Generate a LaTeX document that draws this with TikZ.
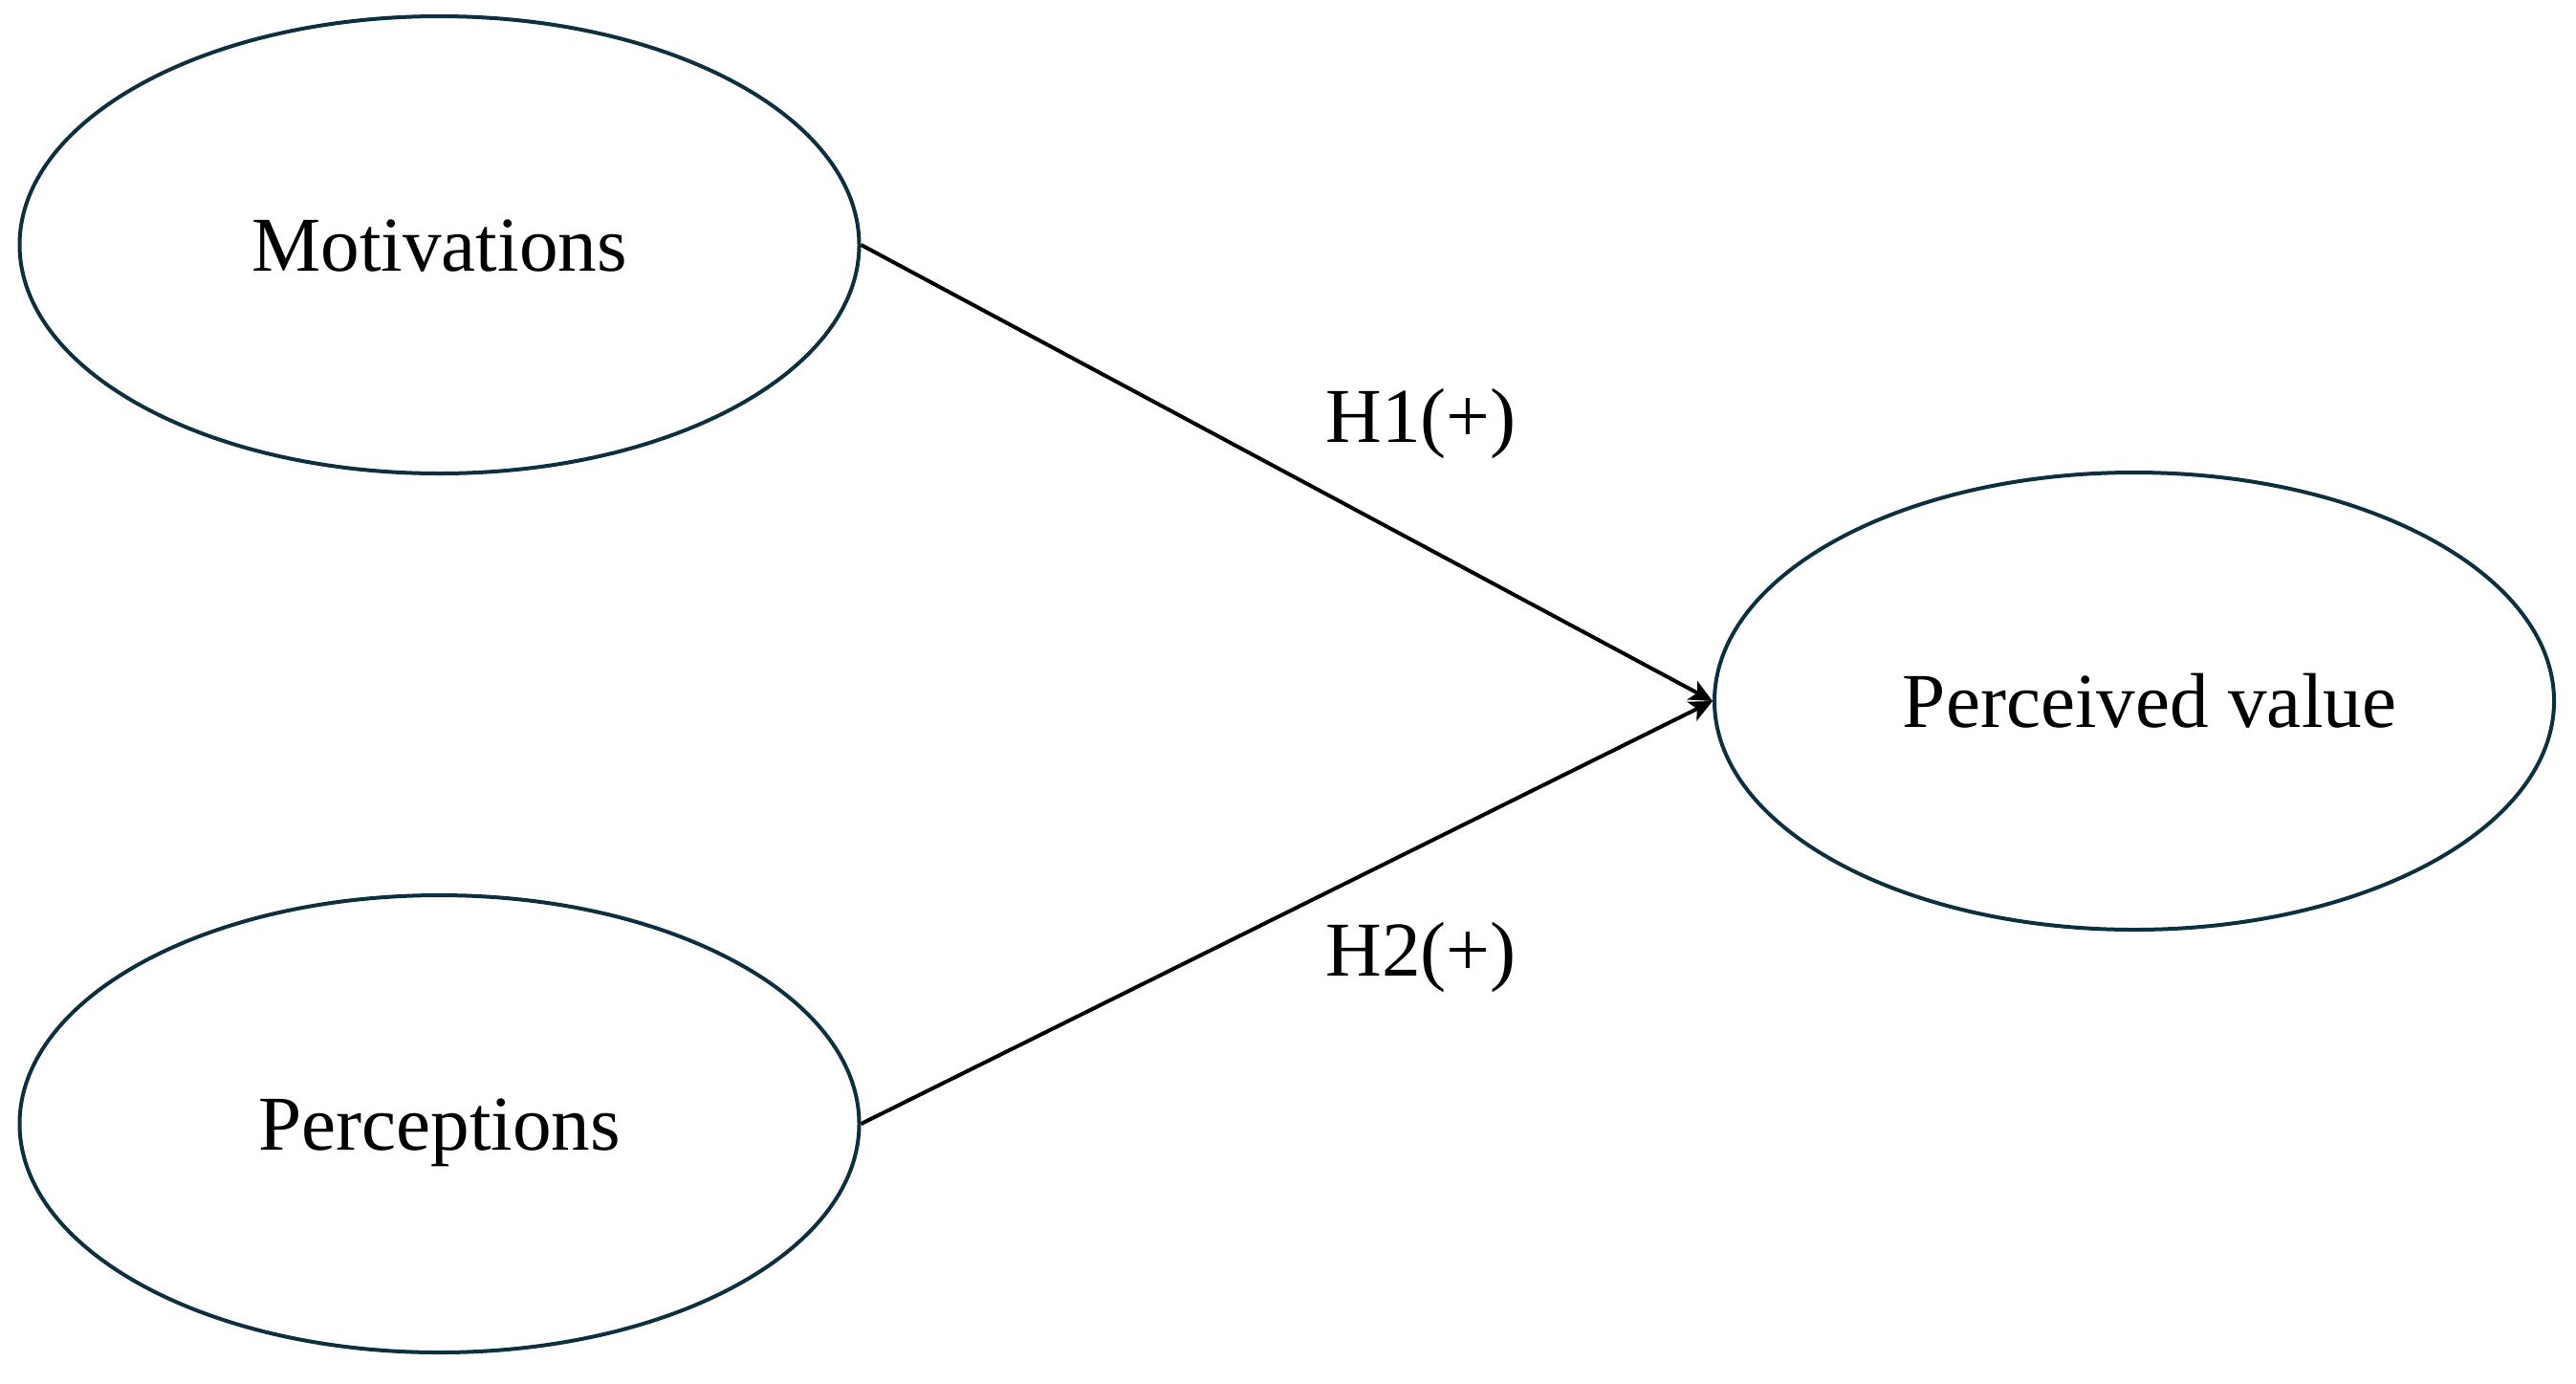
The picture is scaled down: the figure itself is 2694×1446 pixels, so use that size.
\documentclass[tikz,border=0pt]{standalone}
\usepackage{fontspec}
\setmainfont{Liberation Serif}
\usetikzlibrary{shapes.geometric,arrows.meta}
\definecolor{edgeteal}{RGB}{12,48,64}
\begin{document}
\begin{tikzpicture}[x=0.25pt,y=-0.25pt,
  construct/.style={ellipse,draw=edgeteal,line width=1pt,inner sep=0pt,
    minimum width=219.5pt,minimum height=119.5pt,
    font=\fontsize{20.3}{24}\selectfont,text height=13.7pt,text depth=0pt},
  hyp/.style={font=\fontsize{20.3}{24}\selectfont,anchor=base,inner sep=0pt},
  path/.style={draw=black,line width=1pt,-{Stealth[length=6pt,width=5.5pt,inset=1.5pt]}}]
\useasboundingbox (0,0) rectangle (2694,1446);
\node[construct] (mot) at (459.5,256) {Motivations};
\node[construct] (per) at (459.5,1175) {Perceptions};
\node[construct] (val) at (2232,733) {\hspace*{8pt}Perceived value};
\draw[path] (mot.east) -- (val.west);
\draw[path] (per.east) -- (val.west);
\node[hyp] (h1) at (1486,462) {H1(+)};
\node[hyp] (h2) at (1486,1020) {H2(+)};
\end{tikzpicture}
\end{document}
